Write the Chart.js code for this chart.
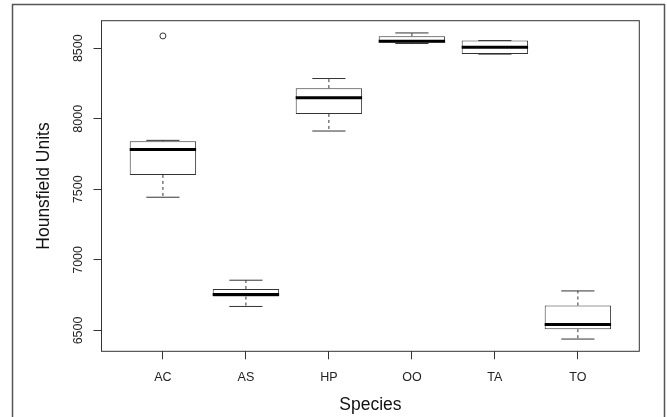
<!DOCTYPE html>
<html>
<head>
  <title>Hounsfield Units by Species</title>
  <script src="https://cdn.jsdelivr.net/npm/chart.js"></script>
  <style>
    body {
      margin: 0;
      padding: 0;
      background-color: #fff;
    }
    canvas {
      display: block;
    }
  </style>
</head>
<body>
  <canvas id="boxChart" width="667" height="417"></canvas>
  <script>
    const species = ['AC', 'AS', 'HP', 'OO', 'TA', 'TO'];
    const lowerWhisker = [7444, 6670, 7913, 8533, 8458, 6439];
    const q1 = [7602, 6740, 8034, 8540, 8458, 6509];
    const median = [7783, 6754, 8149, 8549, 8507, 6542];
    const q3 = [7840, 6794, 8217, 8585, 8554, 6677];
    const upperWhisker = [7847, 6856, 8285, 8608, 8554, 6780];
    const outliers = [{ x: 0, y: 8587 }];
    const yTicks = [6500, 7000, 7500, 8000, 8500];

    // R style axis limits: data range plus 4% each side
    const allValues = lowerWhisker.concat(upperWhisker, outliers.map(o => o.y));
    const yMin = Math.min(...allValues);
    const yMax = Math.max(...allValues);
    const yPad = (yMax - yMin) * 0.04;
    const xPad = species.length * 0.04;

    const font = 'Liberation Sans, Arial, sans-serif';
    const lineColor = '#333';

    // whiskers, staples, medians and the frames
    const boxPlotPlugin = {
      id: 'boxPlot',
      beforeDraw(chart) {
        const ctx = chart.ctx;
        ctx.save();
        ctx.strokeStyle = '#555';
        ctx.lineWidth = 1.5;
        ctx.strokeRect(12.5, 4.5, 652, 500);
        ctx.restore();
      },
      afterDatasetsDraw(chart) {
        const ctx = chart.ctx;
        const y = chart.scales.y;
        const bars = chart.getDatasetMeta(0).data;
        ctx.save();
        bars.forEach((bar, i) => {
          const half = bar.width / 2;
          const cap = half / 2;
          const yq1 = y.getPixelForValue(q1[i]);
          const yq3 = y.getPixelForValue(q3[i]);
          const ylo = y.getPixelForValue(lowerWhisker[i]);
          const yhi = y.getPixelForValue(upperWhisker[i]);
          const ymed = y.getPixelForValue(median[i]);

          ctx.strokeStyle = lineColor;
          ctx.lineWidth = 1;
          ctx.setLineDash([3, 3]);
          ctx.beginPath();
          ctx.moveTo(bar.x, yq3);
          ctx.lineTo(bar.x, yhi);
          ctx.moveTo(bar.x, yq1);
          ctx.lineTo(bar.x, ylo);
          ctx.stroke();

          ctx.setLineDash([]);
          ctx.beginPath();
          ctx.moveTo(bar.x - cap, yhi);
          ctx.lineTo(bar.x + cap, yhi);
          ctx.moveTo(bar.x - cap, ylo);
          ctx.lineTo(bar.x + cap, ylo);
          ctx.stroke();

          ctx.strokeStyle = '#000';
          ctx.lineWidth = 3;
          ctx.beginPath();
          ctx.moveTo(bar.x - half, ymed);
          ctx.lineTo(bar.x + half, ymed);
          ctx.stroke();
        });

        const area = chart.chartArea;
        ctx.strokeStyle = lineColor;
        ctx.lineWidth = 1;
        ctx.strokeRect(area.left, area.top, area.right - area.left, area.bottom - area.top);
        ctx.restore();
      }
    };

    const ctx = document.getElementById('boxChart').getContext('2d');
    new Chart(ctx, {
      type: 'bar',
      data: {
        datasets: [{
          label: 'Box',
          data: species.map((s, i) => ({ x: i, y: [q1[i], q3[i]] })),
          backgroundColor: '#fff',
          borderColor: lineColor,
          borderWidth: 1,
          borderSkipped: false,
          barPercentage: 0.8,
          categoryPercentage: 1.0
        }, {
          type: 'scatter',
          label: 'Outliers',
          data: outliers,
          pointStyle: 'circle',
          pointRadius: 3,
          pointBackgroundColor: '#fff',
          pointBorderColor: lineColor,
          pointBorderWidth: 1
        }]
      },
      options: {
        responsive: false,
        animation: false,
        layout: {
          padding: { top: 20.7, right: 27.7, left: 0, bottom: 0 }
        },
        plugins: {
          legend: { display: false },
          tooltip: { enabled: false }
        },
        scales: {
          x: {
            type: 'linear',
            min: -0.5 - xPad,
            max: species.length - 0.5 + xPad,
            offset: false,
            afterBuildTicks: axis => {
              axis.ticks = species.map((s, i) => ({ value: i }));
            },
            afterFit: axis => {
              axis.height = 65.7;
            },
            ticks: {
              callback: value => species[value],
              color: '#222',
              padding: 10.5,
              maxRotation: 0,
              autoSkip: false,
              font: { family: font, size: 12.5 }
            },
            grid: {
              offset: false,
              drawOnChartArea: false,
              drawTicks: true,
              tickLength: 8,
              color: lineColor
            },
            border: { display: false },
            title: {
              display: true,
              text: 'Species',
              color: '#111',
              padding: { top: 0, bottom: 1 },
              font: { family: font, size: 17.5 }
            }
          },
          y: {
            type: 'linear',
            min: yMin - yPad,
            max: yMax + yPad,
            afterBuildTicks: axis => {
              axis.ticks = yTicks.map(v => ({ value: v }));
            },
            afterFit: axis => {
              axis.width = 101.5;
            },
            ticks: {
              callback: value => String(value),
              color: '#222',
              padding: 1,
              minRotation: 90,
              maxRotation: 90,
              crossAlign: 'center',
              font: { family: font, size: 12.5 }
            },
            grid: {
              drawOnChartArea: false,
              drawTicks: true,
              tickLength: 8,
              color: lineColor
            },
            border: { display: false },
            title: {
              display: true,
              text: 'Hounsfield Units',
              color: '#111',
              padding: { top: 33.5, bottom: 0 },
              font: { family: font, size: 17.5 }
            }
          }
        }
      },
      plugins: [boxPlotPlugin]
    });
  </script>
</body>
</html>
